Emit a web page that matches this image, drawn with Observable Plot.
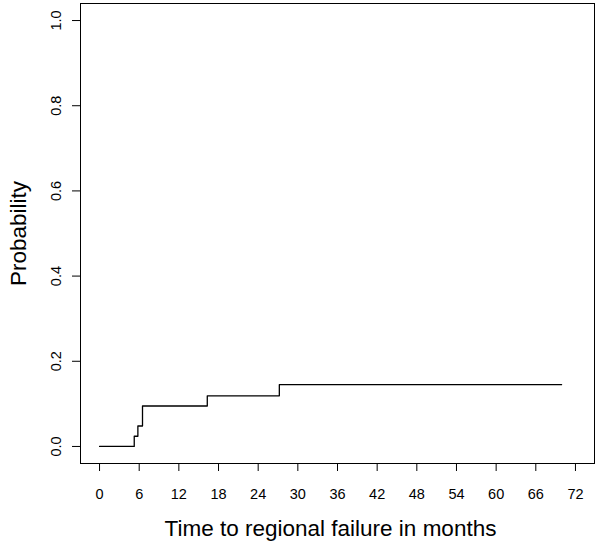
<!DOCTYPE html>
<html>
<head>
<meta charset="utf-8">
<script src="https://cdn.jsdelivr.net/npm/d3@7"></script>
<script src="https://cdn.jsdelivr.net/npm/@observablehq/plot@0.6"></script>
<style>
  html, body { margin: 0; padding: 0; background: #fff; }
  #chart svg { display: block; }
</style>
</head>
<body>
<div id="chart"></div>
<script>
const times = [0, 5.25, 5.8, 6.5, 16.3, 27.2, 69.9];
const probs = [0, 0.024, 0.048, 0.095, 0.119, 0.145, 0.145];
const xTicks = [0, 6, 12, 18, 24, 30, 36, 42, 48, 54, 60, 66, 72];
const yTicks = [0, 0.2, 0.4, 0.6, 0.8, 1.0];
const xTitle = "Time to regional failure in months";
const yTitle = "Probability";

const data = times.map((t, i) => ({t, p: probs[i]}));

const chart = Plot.plot({
  width: 600,
  height: 548,
  marginLeft: 80,
  marginRight: 6,
  marginTop: 3,
  marginBottom: 85,
  style: {fontFamily: "'Liberation Sans', Arial, sans-serif", background: "#fff", color: "#000"},
  x: {domain: [-2.88, 74.88]},
  y: {domain: [-0.04, 1.04]},
  marks: [
    Plot.frame({stroke: "#000", strokeWidth: 1}),
    Plot.axisX({ticks: xTicks, tickSize: 8, tickPadding: 17, fontSize: 14.5, label: null, stroke: "#000"}),
    Plot.axisY({ticks: yTicks, tickSize: 8, tickFormat: () => "", label: null, stroke: "#000"}),
    Plot.text(yTicks, {y: d => d, frameAnchor: "left", dx: -24, rotate: -90, textAnchor: "middle", lineAnchor: "middle", text: d => d.toFixed(1), fontSize: 14.5, fill: "#000"}),
    Plot.text([xTitle], {frameAnchor: "bottom", dx: -7, dy: 65, textAnchor: "middle", lineAnchor: "middle", text: d => d, fontSize: 22.5, fill: "#000"}),
    Plot.text([yTitle], {frameAnchor: "left", dx: -62, rotate: -90, textAnchor: "middle", lineAnchor: "middle", text: d => d, fontSize: 22.5, fill: "#000"}),
    Plot.line(data, {x: "t", y: "p", curve: "step-after", stroke: "#000", strokeWidth: 1.3})
  ]
});
document.getElementById("chart").appendChild(chart);
</script>
</body>
</html>
